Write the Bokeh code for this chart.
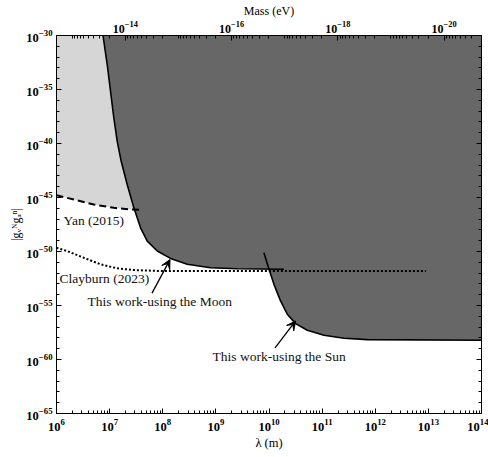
import numpy as np
from bokeh.plotting import figure
from bokeh.models import (LogAxis, FixedTicker, LogTickFormatter, Range1d, LogScale,
                          Arrow, VeeHead, Label, CustomJSTickFormatter)
from bokeh.embed import file_html
from bokeh.resources import INLINE

# ---------------- data ----------------
# Yan (2015) bound (dashed) and excluded region above it
lam_yan = [1.0e6, 2.12e6, 5.04e6, 1.20e7, 2.48e7, 4.11e7]
g_yan = [1.62e-45, 6.5e-46, 2.24e-46, 1.10e-46, 7.8e-47, 7.1e-47]

# Clayburn (2023) bound (dotted)
lam_clay = [1.0e6, 1.59e6, 3.27e6, 6.75e6, 1.39e7, 2.86e7, 9.10e7, 9.0e12]
g_clay = [2.19e-50, 1.10e-50, 2.63e-51, 6.5e-52, 2.75e-52, 1.91e-52, 1.55e-52, 1.55e-52]

# This work - using the Moon
lam_moon = [7.50e6, 9.02e6, 1.04e7, 1.20e7, 1.39e7, 1.65e7, 2.14e7, 2.86e7, 3.82e7,
            5.11e7, 7.87e7, 1.40e8, 2.89e8, 7.94e8, 2.53e9, 1.91e10]
g_moon = [1.0e-30, 1.95e-33, 6.6e-36, 2.3e-38, 1.58e-40, 2.24e-42, 1.58e-44, 1.10e-46, 1.55e-48,
          9.1e-50, 1.10e-50, 2.29e-51, 6.5e-52, 3.1e-52, 2.5e-52, 2.24e-52]

# This work - using the Sun
lam_sun = [8.02e9, 1.0e10, 1.24e10, 1.65e10, 2.21e10, 3.17e10, 5.26e10, 1.08e11,
           2.58e11, 7.10e11, 1.0e14]
g_sun = [7.6e-51, 2.24e-52, 9.1e-54, 2.63e-55, 1.55e-56, 2.09e-57, 5.1e-58, 1.78e-58,
         9.3e-59, 6.9e-59, 6.0e-59]

# axis ticks
x_major = [1e6, 1e7, 1e8, 1e9, 1e10, 1e11, 1e12, 1e13, 1e14]
y_major = [1e-30, 1e-35, 1e-40, 1e-45, 1e-50, 1e-55, 1e-60, 1e-65]
y_minor = [10.0 ** (-e) for e in range(30, 66)]
mass_major = [1e-14, 1e-16, 1e-18, 1e-20]
HBARC = 1.97e-7  # eV*m, lambda = hbar c / m

X_RANGE = (1e6, 1e14)
Y_RANGE = (1e-65, 1e-30)

# ---------------- figure ----------------
SERIF = "Liberation Serif"
DARK = "#676767"
LIGHT = "#d6d6d6"
W, H = 488, 457

p = figure(width=W, height=H, x_axis_type="log", y_axis_type="log",
           x_range=Range1d(*X_RANGE), y_range=Range1d(Y_RANGE[0], Y_RANGE[1]),
           output_backend="svg", toolbar_location=None,
           min_border_left=56, min_border_right=7, min_border_top=34, min_border_bottom=44)
p.xgrid.visible = False
p.ygrid.visible = False
p.outline_line_color = "black"
p.background_fill_color = "white"
p.border_fill_color = "white"

# light grey region (Yan)
p.varea(x=lam_yan, y1=g_yan, y2=[Y_RANGE[1]] * len(lam_yan), fill_color=LIGHT)

# dark grey region: union of regions above Moon and Sun curves
cross = 1.0e10
bx = [l for l in lam_moon if l < cross] + [l for l in lam_sun if l >= cross]
by = [g for l, g in zip(lam_moon, g_moon) if l < cross] + [g for l, g in zip(lam_sun, g_sun) if l >= cross]
poly_x = bx + [X_RANGE[1], lam_moon[0]]
poly_y = by + [Y_RANGE[1], Y_RANGE[1]]
p.patch(poly_x, poly_y, fill_color=DARK, line_color=None)

# bounds
p.line(lam_yan, g_yan, line_color="black", line_width=2, line_dash="7 4")
p.line(lam_clay, g_clay, line_color="black", line_width=2, line_dash="2 2")
p.line(lam_moon, g_moon, line_color="black", line_width=1.6)
p.line(lam_sun, g_sun, line_color="black", line_width=1.6)

# ---------------- axes ----------------
def style_axis(ax, minor_in=3):
    ax.axis_line_color = "black"
    ax.major_tick_in = 5
    ax.major_tick_out = 0
    ax.minor_tick_in = minor_in
    ax.minor_tick_out = 0
    ax.major_tick_line_color = "black"
    ax.minor_tick_line_color = "black"
    ax.major_label_text_font = SERIF
    ax.major_label_text_font_style = "bold"
    ax.major_label_text_font_size = "12.5px"
    ax.major_label_text_color = "black"
    ax.axis_label_text_font = SERIF
    ax.axis_label_text_font_style = "normal"
    ax.axis_label_text_font_size = "12.5px"
    ax.axis_label_text_color = "black"

x_minor = [k * 10.0 ** e for e in range(6, 14) for k in range(1, 10)] + [1e14]
xa = p.xaxis[0]
xa.ticker = FixedTicker(ticks=x_major, minor_ticks=x_minor)
xa.formatter = LogTickFormatter()
xa.axis_label = "λ (m)"
style_axis(xa)
xa.major_label_standoff = 5
xa.axis_label_standoff = 2

ya = p.yaxis[0]
ya.ticker = FixedTicker(ticks=y_major, minor_ticks=y_minor)
ya.formatter = LogTickFormatter()
ya.axis_label = "|gᵥᴺgₐⁿ|"
style_axis(ya)
ya.axis_label_text_font_size = "12px"
ya.major_label_standoff = 4
ya.axis_label_standoff = 0

# right axis: ticks only
ra = LogAxis(ticker=FixedTicker(ticks=y_major, minor_ticks=y_minor),
             formatter=CustomJSTickFormatter(code="return ''"))
style_axis(ra)
ra.major_label_standoff = 0
ra.major_label_text_font_size = "1px"
p.add_layout(ra, "right")

# top axis: mass (eV)
p.extra_x_ranges = {"mass": Range1d(HBARC / X_RANGE[0], HBARC / X_RANGE[1])}
p.extra_x_scales = {"mass": LogScale()}
mass_minor = [k * 10.0 ** e for e in range(-21, -12) for k in range(1, 10)]
ta = LogAxis(x_range_name="mass",
             ticker=FixedTicker(ticks=mass_major, minor_ticks=mass_minor),
             formatter=LogTickFormatter(), axis_label="Mass (eV)")
style_axis(ta)
ta.major_label_text_font_size = "12px"
ta.axis_label_text_font_size = "12px"
ta.major_label_standoff = 3
ta.axis_label_standoff = 0
p.add_layout(ta, "above")

# ---------------- annotations ----------------
labels = [
    ("Yan (2015)", 1.36e6, 7.9e-48),
    ("Clayburn (2023)", 1.14e6, 3.5e-53),
    ("This work-using the Moon", 3.84e6, 2.3e-55),
    ("This work-using the Sun", 8.67e8, 1.74e-60),
]
for txt, lx, ly in labels:
    p.add_layout(Label(x=lx, y=ly, text=txt, text_font=SERIF, text_font_size="13.5px",
                       text_color="#111111", text_baseline="middle", text_align="left"))

arrows = [
    ((6.28e7, 1.41e-54), (1.37e8, 1.78e-51)),
    ((1.30e10, 1.17e-59), (3.17e10, 3.7e-57)),
]
for (x0, y0), (x1, y1) in arrows:
    p.add_layout(Arrow(x_start=x0, y_start=y0, x_end=x1, y_end=y1, line_color="black",
                       line_width=1.3,
                       end=VeeHead(size=9, fill_color="black", line_color="black")))

open("out.html", "w").write(file_html(p, INLINE))
